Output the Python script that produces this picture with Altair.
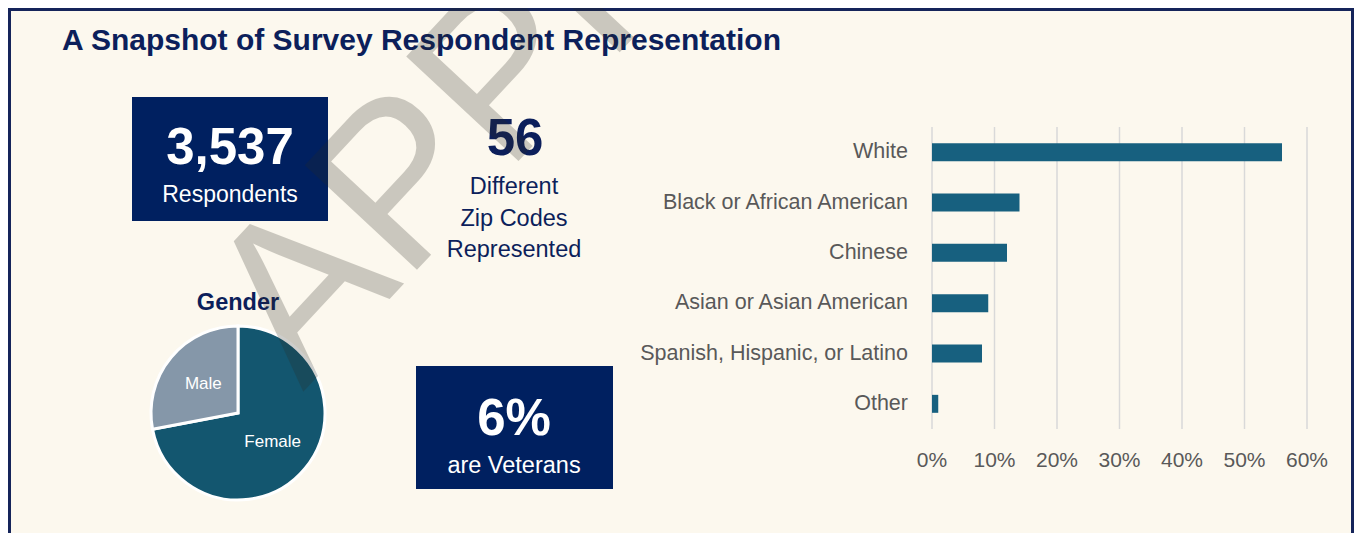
import altair as alt
import pandas as pd

# ---------------- data ----------------
title_text = "A Snapshot of Survey Respondent Representation"
categories = ["White", "Black or African American", "Chinese",
              "Asian or Asian American", "Spanish, Hispanic, or Latino", "Other"]
shares = [56, 14, 12, 9, 8, 1]
tick_values = [0, 10, 20, 30, 40, 50, 60]
tick_labels = ["0%", "10%", "20%", "30%", "40%", "50%", "60%"]
genders = ["Female", "Male"]
gender_shares = [72, 28]
respondents_value = "3,537"
respondents_label = "Respondents"
zip_value = "56"
zip_lines = ["Different", "Zip Codes", "Represented"]
veteran_value = "6%"
veteran_label = "are Veterans"
pie_title = "Gender"
watermark = "APPROVED"

# ---------------- styles ----------------
W, H = 1346, 525
OFF = 8
SANS = "Liberation Sans, Arial, sans-serif"
NAVY_BOX = "#002060"
NAVY_TEXT = "#0c1f5b"
CREAM = "#fcf8ee"
GRAY_TEXT = "#595959"
BAR = "#17607f"


def px(v):
    return v - OFF


one = pd.DataFrame({"k": [0]})


def rect(x0, y0, x1, y1, **kw):
    return alt.Chart(one).mark_rect(**kw).encode(
        x=alt.value(px(x0)), x2=alt.value(px(x1)),
        y=alt.value(px(y0)), y2=alt.value(px(y1)))


def label(txt, x, y, size, color, weight="normal", font=SANS,
          align="center", baseline="alphabetic", **kw):
    return alt.Chart(one).mark_text(
        text=txt, fontSize=size, color=color, fontWeight=weight, font=font,
        align=align, baseline=baseline, **kw).encode(
        x=alt.value(px(x)), y=alt.value(px(y)))


layers = []
# background + border
layers.append(alt.Chart(one).mark_rect(fill=CREAM, stroke="#15245a", strokeWidth=3).encode(
    x=alt.value(1.5), x2=alt.value(W - 1.5), y=alt.value(1.5), y2=alt.value(H + 30)))

# title
layers.append(label(title_text, 62, 50, 30, NAVY_TEXT, weight="bold", align="left"))

# respondents box
layers.append(rect(132, 97, 328, 221, fill=NAVY_BOX))
layers.append(label(respondents_value, 230, 164, 51, "white", weight="bold"))
layers.append(label(respondents_label, 230, 202, 23, "white"))

# zip codes
layers.append(label(zip_value, 515, 155, 51, NAVY_TEXT, weight="bold"))
for line, base in zip(zip_lines, [194, 226, 257]):
    layers.append(label(line, 514, base, 23.5, NAVY_TEXT))

# veterans box
layers.append(rect(416, 366, 613, 489, fill=NAVY_BOX))
layers.append(label(veteran_value, 514, 435, 51, "white", weight="bold"))
layers.append(label(veteran_label, 514, 473, 23.5, "white"))

# gender pie
layers.append(label(pie_title, 238, 310, 23.5, NAVY_TEXT, weight="bold"))
pie_df = pd.DataFrame({"gender": genders, "share": gender_shares})
layers.append(alt.Chart(pie_df).mark_arc(radius=87, stroke="white", strokeWidth=3).encode(
    theta=alt.Theta("share:Q", stack=True),
    color=alt.Color("gender:N", scale=alt.Scale(domain=genders, range=["#13566f", "#8597a9"]),
                    legend=None),
    x=alt.value(px(238)), y=alt.value(px(413))))
layers.append(alt.Chart(pie_df).mark_text(radius=45, fontSize=17, color="white", font=SANS,
                                          baseline="middle").encode(
    theta=alt.Theta("share:Q", stack=True),
    text="gender:N",
    x=alt.value(px(238)), y=alt.value(px(413))))

# bar chart
race_df = pd.DataFrame({"category": categories, "share": shares})
tick_df = pd.DataFrame({"tick": tick_values, "label": tick_labels})
xs = alt.Scale(domain=[0, 60], range=[px(932), px(1307)], nice=False, zero=True)
ys = alt.Scale(domain=categories, range=[px(127), px(429)], paddingInner=0.643, paddingOuter=0.3215)

layers.append(alt.Chart(tick_df).mark_rule(color="#d9d9d9", strokeWidth=1.5).encode(
    x=alt.X("tick:Q", scale=xs, axis=None),
    y=alt.value(px(127)), y2=alt.value(px(429))))
layers.append(alt.Chart(race_df).mark_bar(color=BAR).encode(
    x=alt.X("share:Q", scale=xs, axis=None),
    y=alt.Y("category:N", scale=ys, axis=None)))
layers.append(alt.Chart(race_df).mark_text(align="right", baseline="middle", fontSize=21.5,
                                           color=GRAY_TEXT, font=SANS).encode(
    x=alt.value(px(908)),
    y=alt.Y("category:N", scale=ys, axis=None),
    text="category:N"))
layers.append(alt.Chart(tick_df).mark_text(fontSize=21, color=GRAY_TEXT, font=SANS,
                                           baseline="alphabetic").encode(
    x=alt.X("tick:Q", scale=xs, axis=None),
    y=alt.value(px(467)),
    text="label:N"))

# watermark
layers.append(label(watermark, 303, 392, 223, "#2a2a22", align="left", angle=313, opacity=0.23))

chart = alt.layer(*layers).properties(
    width=W, height=H, padding=0, autosize="none", background="white"
).configure_view(stroke=None)

chart.save("out.html", embed_options={"renderer": "svg", "actions": False})
